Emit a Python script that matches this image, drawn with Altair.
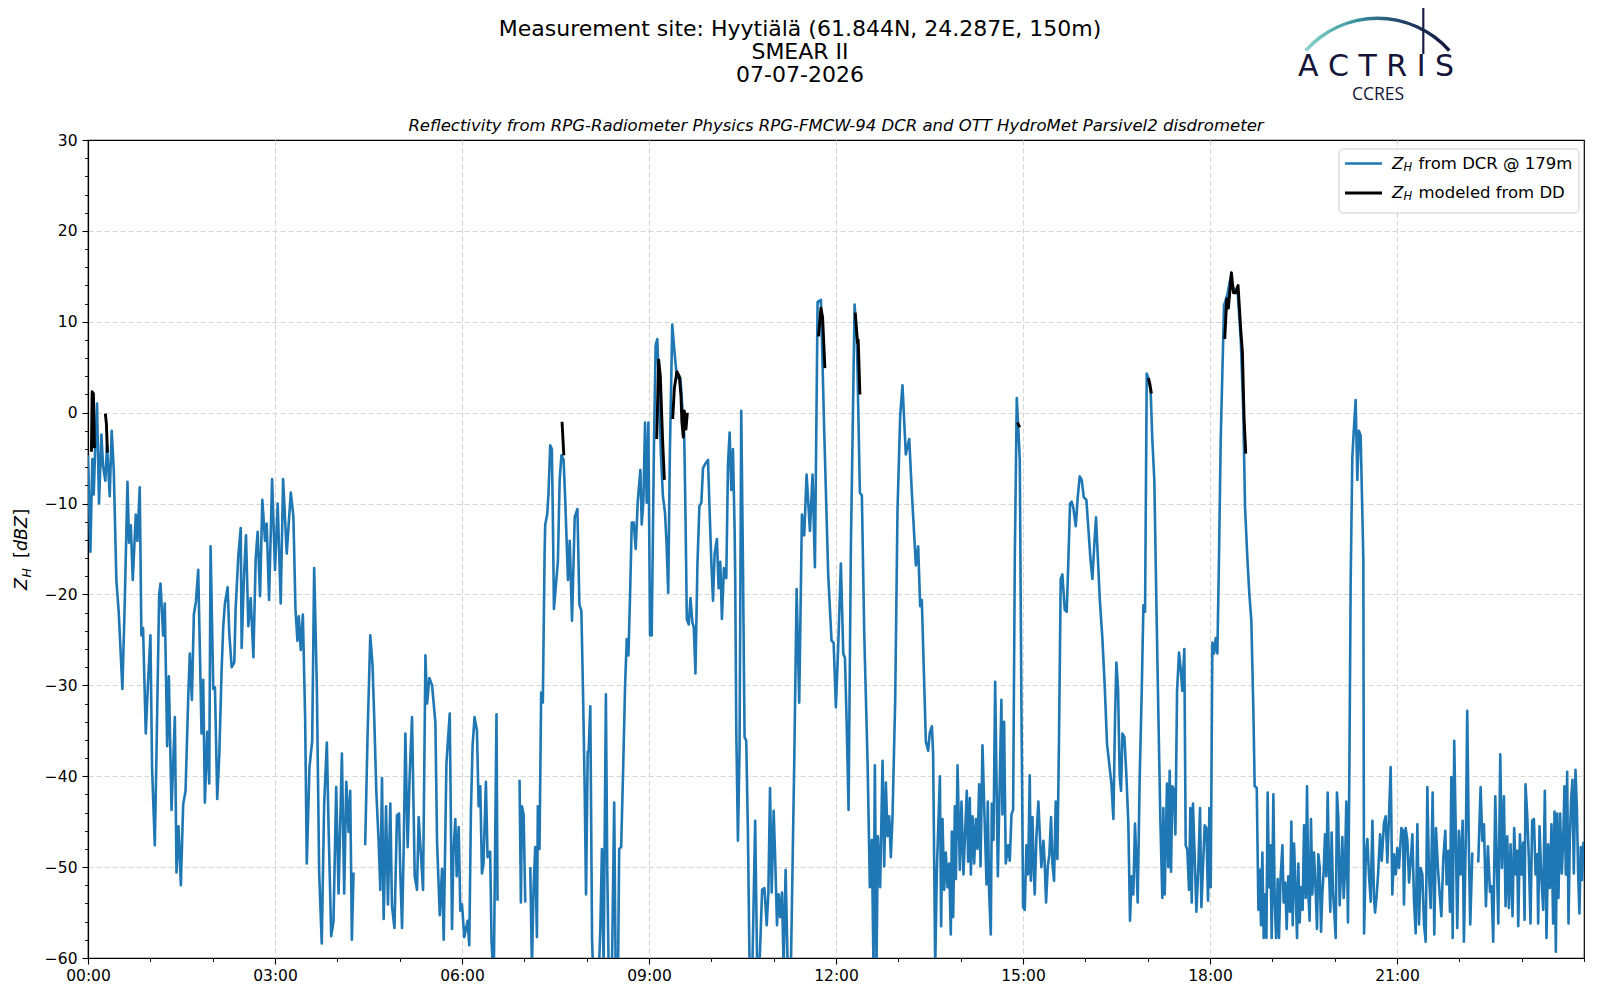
import altair as alt
import pandas as pd

# ---------------- data (minutes after 00:00, reflectivity dBZ); None = data gap ----------------
dcr_00_06 = [
    (0, -4.7), (2.3, -15.3), (4.2, -5.1), (5.5, -9), (6.8, -4.3), (8.7, 1.0), (10.6, -10), (12.9, -2.4),
    (14.5, -5.9), (16.7, -7.5), (18.3, -3.5), (20.9, -9.2), (22.8, -2), (24.8, -6.3), (27.3, -18.4),
    (29.6, -22), (33.1, -30.4), (35.4, -20.8), (38, -7.6), (39.5, -14.3), (41.2, -12.4), (43.1, -18.4),
    (46, -11.2), (47.6, -14.1), (49.8, -8.2), (51.4, -24.5), (53, -23.7), (55.6, -35.3), (57.9, -29.4),
    (60.1, -24.5), (61.7, -39.2), (64.3, -47.6), (65.9, -37.6), (68.5, -20), (69.8, -18.8), (72.3, -24.5),
    (73.9, -21), (76.2, -36.7), (77.8, -29), (80.4, -43.7), (83.6, -33.5), (85.2, -50.6), (87.1, -45.5),
    (89.4, -52), (91.6, -43.1), (93.9, -41.6), (96.5, -31.2), (98, -26.5), (100, -31.6), (101.9, -22.2),
    (103.9, -20.8), (106.1, -17.3), (109.3, -35.3), (110.9, -29.4), (112.5, -42.9), (114.8, -35.1),
    (116.7, -40.8), (118, -14.7), (120.6, -30.4), (122.2, -30.2), (124.4, -42.5), (126.4, -37.6),
    (128.6, -28.4), (130.2, -23.5), (131.8, -21), (134.4, -19.2), (136, -24.3), (138.3, -28), (140.8, -27.5),
    (142.1, -21.6), (144.7, -15.7), (147, -12.7), (147.9, -25.9), (150.2, -17.8), (152.1, -13.5),
    (154.3, -23.5), (156.6, -20.4), (159.2, -26.9), (161.4, -16.1), (163.3, -13.1), (165.6, -20.2),
    (167.8, -9.6), (170.4, -14.1), (172, -12.2), (174.3, -20.6), (177.2, -7.3), (180, -17.3), (182.6, -10),
    (185.5, -21), (187.8, -7.3), (191.3, -15.5), (195.2, -8.8), (197.7, -11.4), (199.7, -21.6),
    (201.6, -25.1), (202.9, -22.4), (204.8, -26.1), (206.8, -22.2), (209, -33.5), (210.6, -49.6),
    (213.2, -39), (215.8, -36.1), (217.7, -17.1), (220.3, -30.2), (222.5, -50.6), (225, -58.4),
    (227.3, -43.1), (229.9, -36.3), (231.5, -45.3), (234.1, -57.6), (236.3, -56), (238.9, -41.2),
    (241.2, -52.9), (244.4, -37.5), (246.6, -52.9), (248.6, -40.6), (250.8, -46.1), (252.4, -41.6),
    (254, -58), (255.6, -50.6), (261, None), (266.8, -47.6), (269.1, -35.5), (271.7, -24.5), (273.9, -27.8),
    (275.6, -33.9), (277.5, -41.6), (279.7, -47.1), (281.4, -52.5), (283, -40.2), (284.6, -55.7),
    (286.9, -43.3), (288.7, -54.1), (291, -43), (292.6, -54.3), (295, -56.7), (297.4, -44.3), (299.4, -44.1),
    (300.6, -50.6), (302.3, -56.7), (303.9, -47.8), (305.5, -35.3), (307.7, -47.8), (309.6, -40),
    (311.9, -33.5), (314.5, -51), (316.7, -52.5), (318.3, -44.5), (319.9, -47.6), (322.5, -52.5),
    (324.8, -26.7), (326.4, -32), (328.6, -29.2), (331.2, -30), (334.4, -34.1), (336, -47.3), (338.6, -55.3),
    (340.8, -50.2), (342.4, -58), (345, -38.6), (348.2, -33.1), (350.4, -56.8), (351.7, -48.5),
    (353.6, -44.7), (354.9, -51), (356.8, -45.6), (358.4, -54.8),
]

dcr_06_12 = [
    (360, -54.1), (362.2, -57.7), (365.4, -55.9), (367, -58.6), (368.6, -43.8), (370.2, -36.6),
    (372.1, -33.5), (374.4, -35), (376, -43.3), (377.6, -41.1), (379.2, -50.7), (380.7, -49.6), (383, -40.6),
    (384.6, -48.9), (387.1, -48.3), (388.4, -58), (390.5, -63), (393.2, -33.2), (394.2, -53.7), (400, None),
    (415.4, -40.4), (416.7, -53.9), (417.7, -43.3), (419.3, -44.2), (420.9, -53.9), (423, None),
    (425.7, -50), (427.3, -61), (428.9, -52.3), (430.5, -47.8), (432.1, -57.7), (433, -43.3), (434.6, -48),
    (436.2, -30.8), (437.8, -31.9), (439.5, -15.5), (440.1, -12.3), (442, -11.2), (443.3, -8.8),
    (444.9, -3.6), (446.5, -4), (447.5, -11.9), (448.5, -21.6), (450.3, -19.1), (452.3, -16.4), (454, -7.4),
    (455.7, -4.7), (457.8, -5.2), (459.4, -9.7), (462, -18.4), (463.7, -14.1), (465.9, -22.9),
    (468.5, -11.5), (471.1, -10.6), (473, -21.1), (474.9, -21.8), (476.5, -30.8), (478.1, -41.5),
    (479.4, -53), (481, -37.3), (481.9, -37.3), (483.5, -32.3), (485.2, -58), (487, -64), (491, -64),
    (493.1, -57), (494.7, -48), (496.3, -61), (498.5, -31), (499.8, -50), (501.5, -64), (504, -64),
    (506.5, -42.9), (508.1, -64), (510, -64), (511.3, -48), (513.2, -47.8), (515.1, -39.3), (517, -29.9),
    (518.6, -24.9), (520.2, -26.7), (521.8, -20), (523.4, -12.1), (525.3, -12.1), (527.2, -15),
    (529.2, -9.7), (531.7, -6.3), (533, -12.3), (534.6, -9.7), (536.2, -1.1), (537.8, -9.9), (539.4, -1.1),
    (541, -24.5), (542.6, -24.5), (544.8, -3.4), (546.4, 7.4), (548, 8.1), (549.9, 1.6), (551.5, -4.7),
    (553.4, -9.2), (555.4, -11), (556.9, -14.4), (558.5, -19.8), (560.1, -4.3), (562.4, 9.7), (564.3, 7),
    (566.5, 4.3), (568.1, 3.8), (570.3, 3.8), (572.3, 0.2), (573.9, -2.5), (575.1, -11), (576.4, -22.7),
    (578.3, -23.3), (579.9, -20.4), (581.8, -23.1), (583.1, -23.6), (584.7, -28.7), (586.6, -16.8),
    (588.5, -10.3), (590.4, -9.9), (592, -6.1), (594.3, -5.6), (596.8, -5.2), (598.4, -11), (600, -16.4),
    (601.6, -20.7), (603.2, -15.5), (605.4, -13.9), (607, -19.3), (608.6, -16.4), (610.2, -22.7),
    (612.1, -17.1), (614.4, -18.2), (616, -5.8), (617.6, -2.2), (619.2, -8.5), (620.8, -4), (622.4, -12.8),
    (623, -18.2), (624, -34.8), (625.6, -47.1), (627.2, -36.6), (628.8, 0.2), (630.4, -16.4), (632, -35.7),
    (633.6, -36.1), (635.2, -46), (636.8, -61), (639, -64), (642.2, -44.9), (644.1, -61), (646, -62),
    (648.9, -52.5), (651.1, -52.3), (653.3, -56.4), (654.9, -52.8), (656.5, -41.3), (658.1, -52.8),
    (660, -43.8), (661.6, -49.6), (663.2, -56.4), (664.8, -53), (666.4, -55.5), (668, -52.8), (669.6, -61),
    (671.5, -50.3), (673.5, -61), (676.6, -61), (679.8, -38.5), (682.1, -19.4), (684.6, -31.9),
    (687.2, -11.2), (689.4, -13.5), (691.7, -6.8), (694.9, -13), (697.4, -6.8), (699.7, -17), (702.3, 12.2),
    (705.5, 12.4), (708.7, -2.2), (712.5, -17.8), (715.7, -25.1), (717.7, -25.3),
]

dcr_12_18 = [
    (719.9, -32.4), (722.1, -25.8), (724.7, -16.6), (727, -26.5), (728.6, -27), (730.2, -33.8),
    (732.1, -43.7), (734.3, -15), (737.9, 11.9), (740.1, 8.2), (743, -8.8), (744.9, -9.1), (747.2, -24.4),
    (750.4, -38.5), (752.6, -52.2), (754.5, -47), (756.1, -61), (757.4, -38.8), (759, -61), (760.3, -46.6),
    (762.5, -52.2), (764.8, -38.3), (766.4, -49.9), (768, -40.7), (769.6, -46.6), (771.2, -44.4),
    (772.8, -48.9), (774.4, -44.4), (777, -31.5), (779.2, -10.7), (781.8, -0.3), (784, 3), (787.2, -4.6),
    (790.5, -2.9), (793, -8.8), (796.9, -16.8), (799.1, -14.7), (801, -21.3), (802.6, -20.6), (806.5, -36.2),
    (808.7, -37.2), (810.3, -35.2), (812.3, -34.5), (813.5, -37.6), (815.5, -61), (817.1, -50.3), (820, -40),
    (821.2, -56.5), (822.5, -44.7), (824.1, -52.5), (825.7, -48.4), (827.3, -52.2), (828.9, -49.6),
    (830.5, -57.4), (831.5, -46.1), (832.8, -55.5), (834.4, -43.3), (835.4, -51.3), (837, -38.8),
    (839.2, -50.3), (840.8, -42.8), (842.7, -50.8), (844.3, -46.1), (845.9, -41.6), (847.2, -49.4),
    (848.8, -42.4), (849.8, -50.8), (851.4, -44.4), (853, -49.6), (854.6, -44.7), (856.2, -48),
    (857.8, -40.9), (859.1, -49.9), (861, -36.6), (862.9, -44.2), (864.9, -51.9), (866.1, -42.8),
    (867.4, -52.7), (869, -57.4), (870, -43), (871.6, -47), (873.2, -29.6), (875.8, -51), (879.2, -31.6),
    (880.2, -44.2), (881.8, -34), (883.4, -49.6), (885.7, -47.6), (887.3, -49.3), (888.9, -44.2),
    (890.5, -43.7), (892.1, -16.1), (894, 1.6), (895.3, -1.3), (896.9, -5.2), (898.5, -32.6), (900.1, -54.4),
    (901.7, -54.7), (903.3, -47.6), (904.9, -50.8), (906.5, -39.9), (907.5, -51.5), (909.1, -44.5),
    (910.4, -50.5), (911.3, -53), (912.9, -46.7), (914.8, -42.8), (916.1, -46.2), (917.7, -50),
    (919.7, -47.1), (920.9, -49.6), (922.2, -53.9), (923.8, -50), (925.4, -48.6), (927, -44.5),
    (928.3, -49.6), (929.9, -51.5), (931.5, -42.8), (933.1, -49.1), (934.7, -35.5), (936.3, -18.3),
    (937.9, -17.8), (940.2, -21.7), (942.1, -21.9), (943.7, -16.1), (945.3, -10), (946.9, -9.8),
    (948.5, -10.5), (950.8, -12.5), (952.7, -9.3), (954.6, -7), (956.5, -7.4), (958.5, -9.3), (961, -9.6),
    (962.9, -12.7), (964.9, -16.1), (966.8, -18.3), (968.7, -14.4), (970.3, -11.5), (971.9, -15.6),
    (973.9, -20.5), (976.4, -24.8), (978.7, -30.2), (980.9, -36.5), (982.8, -38.4), (985.1, -40.8),
    (987, -44.7), (988.6, -33.6), (989.9, -27.5), (991.5, -30.4), (993.1, -40.1), (994.4, -41.6),
    (995.7, -35.3), (997.6, -35.7), (999.5, -39.9), (1001.4, -45.2), (1003, -55.9), (1004.6, -51),
    (1006.2, -53), (1007.8, -45.2), (1009.1, -49.3), (1010.4, -53.9), (1012.3, -40.3), (1014.3, -30.6),
    (1015.9, -21.2), (1017.5, -21.9), (1019.1, 4.3), (1020.7, 3.8), (1022.9, 2.3), (1024.5, -3),
    (1026.4, -7.4), (1028.4, -21), (1030.3, -33.1), (1032.2, -44.7), (1034.1, -53.4), (1035.1, -43.5),
    (1036.4, -53), (1037.4, -47.6), (1038.6, -40.8), (1039.9, -50), (1041.2, -39.4), (1042.5, -50.5),
    (1043.8, -41.1), (1045.4, -41.6), (1046.7, -46.4), (1048.3, -30.6), (1050.2, -26.4), (1051.8, -28.2),
    (1053.4, -30.6), (1055.3, -26), (1056.6, -47.6), (1058.2, -48.1), (1059.8, -52.5), (1061.1, -43.5),
    (1062.4, -53.9), (1063.6, -43), (1064.9, -47.6), (1066.9, -54.9), (1068.8, -50), (1070.4, -43.5),
    (1071.7, -54.4), (1073.3, -49.8), (1074.9, -45.4), (1076.5, -45.7), (1078.1, -53.7), (1079.4, -43.5),
]

dcr_18_24 = [
    (1080.7, -52.2), (1082.3, -25.3), (1083.9, -26.5), (1085.5, -24.8), (1087.1, -26.5), (1088.7, -15.6),
    (1090.3, -3), (1093.5, 11.8), (1096.7, 13), (1099.9, 14.9), (1103.1, 13.5), (1106.4, 13.7),
    (1109.6, 8.1), (1112.1, -0.1), (1113.7, -10.3), (1116, -16.1), (1117.9, -20), (1119.8, -22.9),
    (1121.8, -33.1), (1123, -41.1), (1125, -41.3), (1126.6, -54.7), (1127.9, -50.3), (1129.1, -56.4),
    (1130.4, -48.4), (1131.7, -57.8), (1133, -53), (1134.3, -57.8), (1135.5, -41.8), (1136.8, -52.2),
    (1138.1, -47.6), (1139.4, -57.8), (1141, -42), (1142.3, -53.9), (1143.6, -57.8), (1145.2, -51.3),
    (1146.4, -57.8), (1148, -51), (1149.7, -47.6), (1150.9, -53.9), (1152.5, -51.7), (1153.8, -56.8),
    (1155.4, -51), (1157, -54.9), (1158.3, -45), (1159.6, -56.4), (1160.9, -47.4), (1162.5, -53),
    (1163.8, -57.8), (1165, -49.6), (1166.3, -56.1), (1167.6, -52.2), (1169.2, -54.7), (1170.5, -45.4),
    (1172.1, -53.4), (1173.4, -41.1), (1174.7, -53), (1175.9, -55.9), (1177.2, -44.7), (1178.5, -53),
    (1180.1, -48.4), (1181.7, -52.5), (1183, -56.8), (1184.3, -48.6), (1185.6, -50), (1186.9, -57.1),
    (1188.1, -53), (1189.4, -50.5), (1190.7, -46.4), (1192, -51), (1193.3, -41.8), (1194.5, -50),
    (1195.8, -54.9), (1197.1, -46.2), (1198.4, -52.7), (1199.7, -55.1), (1201, -57.8), (1202.2, -41.8),
    (1203.5, -44.5), (1204.8, -54.2), (1206.1, -50.8), (1207.4, -46.7), (1208.7, -53.4), (1209.9, -50.5),
    (1211.2, -42.8), (1212.8, -56.1), (1214.1, -40.3), (1215.4, -18.5), (1217, -4.9), (1218.6, -1.6),
    (1220.2, 1.4), (1221.8, -7.4), (1223.4, -2), (1225, -2.5), (1227.6, -16.1), (1228.3, -57.3),
    (1229.9, -49), (1231.5, -46.9), (1233.1, -51), (1234.7, -53.8), (1236.3, -44.9), (1237.9, -53.4),
    (1238.9, -55), (1240.5, -53), (1241.8, -50.8), (1243.7, -46.4), (1245.3, -49.3), (1247.5, -45.1),
    (1249.1, -44.4), (1250.7, -49.5), (1252.3, -44.4), (1253.9, -39), (1255.5, -53), (1257.1, -48.6),
    (1258.7, -50.8), (1260.3, -47.9), (1261.9, -50.1), (1264.2, -45.7), (1265.8, -46), (1266.7, -54.1),
    (1268.3, -45.7), (1270, -47.1), (1271.6, -51.7), (1273.2, -49.3), (1274.8, -46.4), (1276.4, -53.8),
    (1278, -57.3), (1279.6, -45.3), (1281.2, -56.3), (1282.8, -50.1), (1284.4, -50.8), (1286, -56.3),
    (1287.6, -58.2), (1289.2, -41.2), (1290.8, -50.8), (1292.4, -54.5), (1294.3, -41.8), (1295.9, -57.4),
    (1297.5, -45.7), (1299.4, -50.1), (1301.1, -53), (1302.7, -55.4), (1304.6, -49), (1306.5, -46),
    (1307.8, -51.9), (1309.4, -48.2), (1311, -54.9), (1312.3, -40.1), (1313.6, -57.8), (1315.1, -36.1),
    (1316.4, -45.1), (1318, -56.7), (1319.6, -46), (1321.2, -50.8), (1323.2, -44.9), (1324.4, -58.2),
    (1326.4, -45.7), (1327.6, -32.8), (1329.2, -47.9), (1330.5, -56.3), (1332.5, -48.4), (1335, None),
    (1338.2, -49.5), (1340.5, -41.2), (1342.1, -47.1), (1343.7, -45.3), (1345.6, -54.3), (1347.5, -47.7),
    (1349.5, -52.7), (1351, -52.1), (1352.6, -58.2), (1354.6, -42.2), (1356.2, -50.1), (1357.5, -56.2),
    (1359.4, -37.6), (1361, -50.1), (1362.9, -42.2), (1364.5, -54.3), (1366.1, -46.6), (1367.7, -54.5),
    (1369.3, -47.5), (1371.2, -55.4), (1372.8, -45.7), (1374.4, -50.8), (1375.7, -48.2), (1376.7, -56.5),
    (1378.3, -46.4), (1379.9, -50.8), (1381.5, -47.3), (1382.8, -55.8), (1383.7, -40.9), (1385.3, -44.2),
    (1386.9, -49), (1388.5, -56.2), (1390.1, -44.9), (1391.8, -44.7), (1393.4, -50.8), (1395, -48.6),
    (1395.9, -56.2), (1397.2, -45.5), (1398.8, -50.8), (1400.7, -54.7), (1402.3, -41.6), (1403.9, -57.8),
    (1405.5, -47.5), (1407.1, -52.3), (1408.7, -45.3), (1410.3, -56.2), (1411.6, -43.9), (1412.9, -59.3),
    (1414.1, -44.1), (1415.4, -53.4), (1417, -44.1), (1418.6, -50.7), (1419.9, -47.4), (1421.2, -41.1),
    (1422.5, -50.8), (1423.8, -39.5), (1425.1, -56.2), (1426.3, -47.2), (1427.6, -42.6), (1428.9, -40.4),
    (1430.2, -50.7), (1431.8, -39.3), (1433.1, -43.3), (1434.4, -50.8), (1435.6, -55.1), (1436.9, -47.8),
    (1438.2, -51.4), (1439.5, -47.2),
]

dd_points = [
    (3.3, -4.3), (4.0, 2.3), (5.2, 2.1), (6.2, -3.9), (10, None),
    (16.7, -0.1), (17.7, -1.2), (18.7, -4.4), (30, None),
    (456.3, -1.0), (458.0, -4.7), (500, None),
    (547.4, -2.9), (549.3, 5.8), (550.9, 4.0), (553.1, -3.0), (554.8, -7.4), (558, None),
    (562.8, -0.7), (564.4, 2.7), (566.9, 4.5), (569.2, 4.0), (570.8, 1.8), (571.7, -1.1), (573.0, -2.7),
    (574.0, 0.2), (575.6, -1.8), (576.9, 0.0), (600, None),
    (703.2, 8.4), (705.5, 11.5), (707.1, 10.5), (709.3, 4.9), (720, None),
    (738.5, 11.0), (740.7, 7.7), (741.4, 8.0), (743.0, 2.0), (800, None),
    (894.6, -1.1), (896.9, -1.6), (950, None),
    (1020.7, 3.8), (1022.0, 3.2), (1023.6, 2.1), (1050, None),
    (1094.2, 8.1), (1096.1, 12.5), (1097.7, 11.5), (1100.6, 15.4), (1102.5, 13.2), (1104.8, 13.2),
    (1107.0, 14.0), (1109.6, 9.1), (1111.2, 6.7), (1112.8, -0.6), (1114.4, -4.5),
]

x_major = [0, 3, 6, 9, 12, 15, 18, 21]
x_minor = list(range(0, 25))
y_major = [-60, -50, -40, -30, -20, -10, 0, 10, 20, 30]
y_minor = list(range(-60, 31, 2))


def to_frame(pairs):
    df = pd.DataFrame(pairs, columns=["minute", "dbz"])
    df["dbz"] = pd.to_numeric(df["dbz"])
    df["seg"] = df["dbz"].isna().cumsum()
    df = df.dropna().copy()
    df["hour"] = df["minute"] / 60.0
    return df


dcr = to_frame(dcr_00_06 + dcr_06_12 + dcr_12_18 + dcr_18_24)
dd = to_frame(dd_points)

FONT = "DejaVu Sans"
xs = alt.Scale(domain=[0, 24], nice=False, zero=False)
ys = alt.Scale(domain=[-60, 30], nice=False, zero=False)

ax_x = alt.Axis(values=x_major, labelExpr="(datum.value < 10 ? '0' : '') + datum.value + ':00'",
                grid=True, gridDash=[5, 3], gridColor="#d4d4d4", gridWidth=1,
                gridOpacity={"condition": {"test": "datum.value == 0", "value": 0}, "value": 1},
                tickSize=6, tickColor="black", tickWidth=1.1, domainColor="black", domainWidth=1.2,
                labelFont=FONT, labelFontSize=15.5, labelColor="black", labelPadding=4,
                labelFlush=False, labelOverlap=False, title=None, orient="bottom")
ax_y = alt.Axis(values=y_major, labelExpr="datum.value < 0 ? '\u2212' + abs(datum.value) : '' + datum.value",
                grid=True, gridDash=[5, 3], gridColor="#d4d4d4", gridWidth=1,
                gridOpacity={"condition": {"test": "datum.value == 30 || datum.value == -60", "value": 0},
                             "value": 1},
                tickSize=6, tickColor="black", tickWidth=1.1, domainColor="black", domainWidth=1.2,
                labelFont=FONT, labelFontSize=15.5, labelColor="black", labelPadding=5,
                labelFlush=False, labelOverlap=False, title=None, orient="left")
ax_x_minor = alt.Axis(values=x_minor, labels=False, grid=False, domain=False, ticks=True,
                      tickSize=3.5, tickColor="black", tickWidth=0.9, title=None, orient="bottom")
ax_y_minor = alt.Axis(values=y_minor, labels=False, grid=False, domain=False, ticks=True,
                      tickSize=3.5, tickColor="black", tickWidth=0.9, title=None, orient="left")

blue = alt.Chart(dcr).mark_line(color="#1f77b4", strokeWidth=2.6, clip=True, strokeJoin="round").encode(
    x=alt.X("hour:Q", scale=xs, axis=ax_x),
    y=alt.Y("dbz:Q", scale=ys, axis=ax_y),
    detail="seg:N",
)
black = alt.Chart(dd).mark_line(color="black", strokeWidth=2.9, clip=True, strokeJoin="round").encode(
    x=alt.X("hour:Q", scale=xs, axis=None),
    y=alt.Y("dbz:Q", scale=ys, axis=None),
    detail="seg:N",
)
minor = alt.Chart(dd).mark_point(opacity=0).encode(
    x=alt.X("hour:Q", scale=xs, axis=ax_x_minor),
    y=alt.Y("dbz:Q", scale=ys, axis=ax_y_minor),
)

one = alt.Data(values=[{"k": 1}])


def txt(s, x, y, size, italic=False, align="left", baseline="middle", angle=None, font=FONT, color="black"):
    kw = dict(text=s, fontSize=size, font=font, align=align, baseline=baseline, color=color)
    if italic:
        kw["fontStyle"] = "italic"
    if angle is not None:
        kw["angle"] = angle
    return alt.Chart(one).mark_text(**kw).encode(x=alt.value(x), y=alt.value(y))


decor = []
# figure title (centred on the figure) and axes title (centred on the plot)
decor.append(txt("Measurement site: Hyytiälä (61.844N, 24.287E, 150m)", 712, -111, 22, align="center"))
decor.append(txt("SMEAR II", 712, -88, 22, align="center"))
decor.append(txt("07-07-2026", 712, -65, 22, align="center"))
decor.append(txt("Reflectivity from RPG-Radiometer Physics RPG-FMCW-94 DCR and OTT HydroMet Parsivel2 disdrometer",
                 748, -14, 16.5, italic=True, align="center"))
# y-axis title  Z_H [dBZ]
decor.append(txt("Z", -66, 450, 17.5, italic=True, angle=270))
decor.append(txt("H", -61.5, 437.5, 12.5, italic=True, angle=270))
decor.append(txt("[", -66, 418, 17.5, angle=270))
decor.append(txt("dBZ", -66, 411, 17.5, italic=True, angle=270))
decor.append(txt("]", -66, 375.5, 17.5, angle=270))

# legend
decor.append(alt.Chart(one).mark_rect(fill="white", fillOpacity=0.8, stroke="#cccccc", strokeWidth=1,
                                      cornerRadius=4).encode(
    x=alt.value(1251), x2=alt.value(1491), y=alt.value(9), y2=alt.value(73)))
decor.append(alt.Chart(one).mark_rule(color="#1f77b4", strokeWidth=2.6).encode(
    x=alt.value(1257), x2=alt.value(1294), y=alt.value(23.5)))
decor.append(alt.Chart(one).mark_rule(color="black", strokeWidth=2.8).encode(
    x=alt.value(1257), x2=alt.value(1294), y=alt.value(53)))
for yy, label in [(23.5, "from DCR @ 179m"), (53, "modeled from DD")]:
    decor.append(txt("Z", 1304, yy, 16.5, italic=True))
    decor.append(txt("H", 1315.5, yy + 4, 11.5, italic=True))
    decor.append(txt(label, 1330.5, yy, 16.5))

# ACTRIS / CCRES logo
grad = {"gradient": "linear", "x1": 0, "x2": 1, "y1": 0, "y2": 0,
        "stops": [{"offset": 0, "color": "#8fd6cf"}, {"offset": 0.35, "color": "#3a94a0"},
                  {"offset": 0.7, "color": "#1f3d66"}, {"offset": 1, "color": "#15153a"}]}
decor.append(alt.Chart(one).mark_arc(innerRadius=94, outerRadius=97.5, theta=5.435, theta2=7.131,
                                     fill=grad).encode(x=alt.value(1289.5), y=alt.value(-26)))
decor.append(alt.Chart(one).mark_rule(color="#1c1c44", strokeWidth=2.2).encode(
    x=alt.value(1335.3), y=alt.value(-138), y2=alt.value(-86)))
decor.append(txt("A C T R I S", 1288, -64, 30, align="center", baseline="alphabetic", color="#15153a"))
decor.append(txt("CCRES", 1290, -40, 17.5, align="center", baseline="alphabetic", font="Open Sans",
                 color="#15153a"))

chart = alt.layer(blue, black, minor, *decor).resolve_axis(
    x="independent", y="independent"
).properties(
    width=1496, height=818,
    autosize=alt.AutoSizeParams(type="none"),
    padding={"left": 80, "top": 132, "right": 8, "bottom": 30},
).configure_view(stroke="black", strokeWidth=1.2)

chart.save("out.html", embed_options={"renderer": "svg", "actions": False})
